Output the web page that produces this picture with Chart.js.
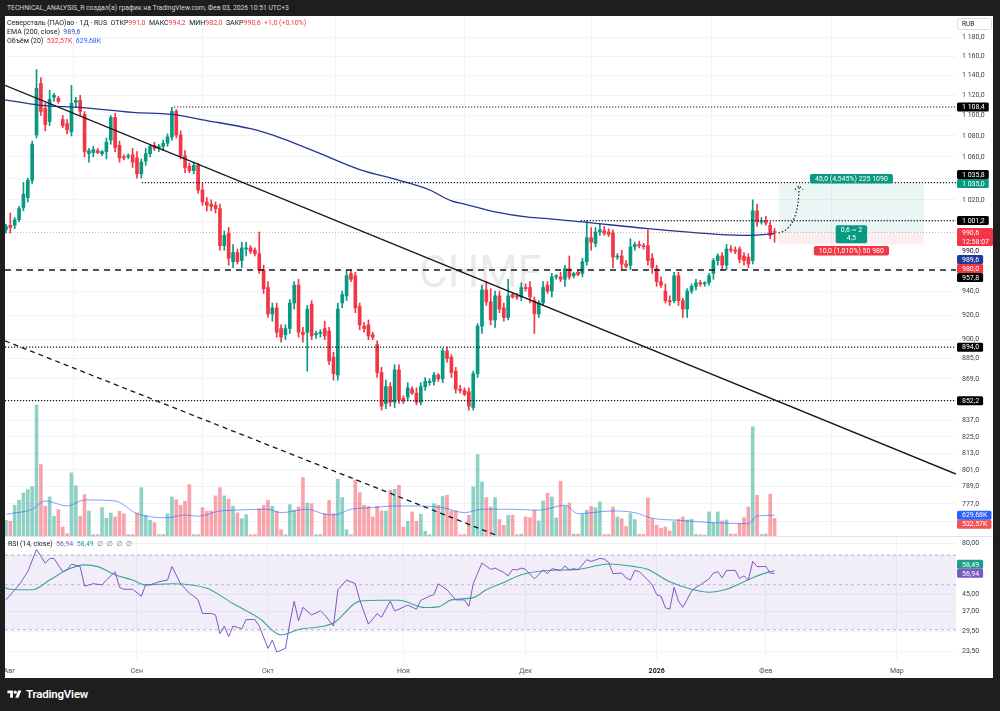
<!DOCTYPE html>
<html>
<head>
<meta charset="utf-8">
<script src="https://cdn.jsdelivr.net/npm/chart.js@4.4.1/dist/chart.umd.min.js"></script>
<style>
  html, body { margin:0; padding:0; width:1000px; height:711px; overflow:hidden; background:#1e1e1e;
               font-family: Roboto, "Noto Sans", sans-serif; }
  #topline { position:absolute; left:7px; top:3px; font-size:6.8px; line-height:10px; color:#d8d8d8; white-space:nowrap; }
  #panel { position:absolute; left:5px; top:16px; width:988px; height:662px; background:#fff; }
  #mainWrap { position:absolute; left:5px; top:16px; width:988px; height:520px; }
  #rsiWrap { position:absolute; left:5px; top:536px; width:988px; height:142px; }
  #logo { position:absolute; left:7px; top:687px; color:#fff; font-size:11.5px; font-weight:600;
          display:flex; align-items:center; gap:4px; letter-spacing:-0.2px; }
</style>
</head>
<body>
<div id="topline">TECHNICAL_ANALYSIS_R создал(а) график на TradingView.com, Фев 03, 2026 10:51 UTC+3</div>
<div id="panel"></div>
<div id="mainWrap"><canvas id="main" width="988" height="520"></canvas></div>
<div id="rsiWrap"><canvas id="rsi" width="988" height="142"></canvas></div>
<div id="logo"><svg width="15" height="11" viewBox="0 0 36 28"><path d="M14 22H7V11H0V4h14v18z" fill="#fff"/><circle cx="20" cy="8" r="4" fill="#fff"/><path d="M28 22h-8l7.5-18h8L28 22z" fill="#fff"/></svg><span>TradingView</span></div>
<script>
// ── время: индекс бара (0 = 1 авг 2025) ─────────────────
const monthIdx = [1.8, 31, 61, 92, 120, 150, 175, 205];
const monthLbl = ["Авг", "Сен", "Окт", "Ноя", "Дек", "2026", "Фев", "Мар"];
const priceTicks = [1180, 1160, 1140, 1120, 1100, 1080, 1060, 1040, 1020, 1000, 960, 940, 920, 900, 885, 869, 852, 837, 825, 813, 801, 789, 777, 765];
const rsiTicks = [80, 45, 37, 29.5, 23.5];

// ── свечи, дневки ──────────────────────────────────────
const opens = [
  990, 993, 997, 997, 1002, 1013, 1022, 1038, 1081, 1132,
  1107, 1094, 1118, 1117, 1096, 1092, 1084, 1113, 1115, 1101,
  1063, 1064, 1066, 1063, 1065, 1076, 1098, 1071, 1060, 1060,
  1062, 1059, 1044, 1056, 1063, 1071, 1068, 1070, 1073, 1079,
  1104, 1081, 1061, 1051, 1047, 1052, 1029, 1018, 1016, 1015,
  1012, 979, 990, 965, 973, 966, 976, 977, 975, 972,
  958, 943, 921, 926, 909, 904, 909, 930, 945, 906,
  906, 929, 904, 905, 909, 907, 886, 872, 930, 936,
  955, 953, 927, 911, 912, 904, 896, 874, 850, 863,
  851, 876, 854, 855, 861, 858, 851, 863, 866, 867,
  872, 869, 891, 886, 875, 861, 860, 859, 847, 873,
  911, 941, 931, 916, 936, 926, 918, 937, 936, 935,
  943, 943, 932, 921, 930, 945, 940, 952, 952, 950,
  959, 953, 956, 955, 965, 986, 981, 991, 992, 991,
  990, 969, 970, 963, 962, 978, 980, 979, 979, 968,
  959, 948, 940, 932, 932, 953, 932, 925, 940, 944,
  947, 946, 947, 955, 966, 970, 962, 976, 975, 976,
  970, 969, 966, 1010, 1000, 1001, 997, 991
];
const highs = [
  995, 998, 1008, 1004, 1014, 1036, 1040, 1075, 1146, 1138,
  1112, 1125, 1122, 1119, 1100, 1096, 1130, 1118, 1120, 1104,
  1068, 1070, 1068, 1066, 1078, 1100, 1102, 1075, 1062, 1063,
  1068, 1065, 1058, 1068, 1072, 1074, 1072, 1076, 1082, 1108,
  1106, 1085, 1066, 1054, 1055, 1054, 1035, 1022, 1020, 1018,
  1016, 992, 995, 980, 976, 982, 982, 979, 977, 991,
  962, 948, 930, 930, 912, 912, 933, 948, 950, 910,
  928, 932, 907, 908, 915, 910, 890, 930, 940, 958,
  958, 956, 930, 914, 916, 906, 899, 878, 868, 866,
  880, 880, 856, 866, 863, 862, 866, 870, 869, 874,
  873, 893, 894, 888, 878, 864, 862, 862, 875, 913,
  945, 948, 942, 940, 940, 930, 950, 939, 938, 947,
  946, 948, 935, 932, 948, 948, 955, 954, 956, 962,
  970, 956, 958, 968, 1001, 995, 995, 998, 996, 994,
  993, 972, 975, 966, 985, 982, 983, 981, 993, 972,
  962, 952, 946, 936, 956, 956, 934, 942, 946, 950,
  949, 948, 955, 968, 972, 973, 980, 979, 978, 978,
  973, 972, 1020, 1016, 1004, 1005, 1000, 994.2
];
const lows = [
  986, 990, 990, 994, 1000, 1010, 1018, 1035, 1078, 1100,
  1085, 1090, 1114, 1112, 1088, 1082, 1080, 1108, 1100, 1060,
  1055, 1060, 1063, 1061, 1058, 1072, 1065, 1055, 1057, 1058,
  1050, 1040, 1040, 1052, 1060, 1066, 1065, 1066, 1070, 1076,
  1078, 1058, 1045, 1045, 1044, 1026, 1015, 1010, 1010, 1008,
  975, 975, 962, 960, 963, 960, 970, 972, 970, 955,
  938, 918, 915, 902, 898, 900, 905, 925, 902, 898,
  875, 900, 901, 902, 900, 880, 868, 868, 926, 932,
  948, 922, 908, 906, 900, 900, 870, 845, 846, 848,
  847, 850, 850, 852, 857, 849, 849, 860, 864, 864,
  867, 866, 882, 870, 858, 858, 856, 845, 845, 870,
  905, 928, 912, 910, 922, 915, 916, 934, 933, 932,
  940, 930, 905, 918, 928, 938, 935, 950, 948, 944,
  950, 951, 953, 952, 962, 975, 978, 988, 988, 987,
  960, 967, 958, 960, 958, 975, 977, 976, 962, 955,
  944, 943, 930, 928, 930, 928, 918, 918, 938, 941,
  944, 944, 945, 950, 962, 958, 958, 973, 972, 964,
  962, 960, 963, 996, 998, 997, 985, 982
];
const closes = [
  993, 996, 995, 1002, 1012, 1025, 1038, 1072, 1127, 1104,
  1091, 1116, 1120, 1114, 1090, 1086, 1112, 1115, 1104, 1065,
  1066, 1067, 1064, 1065, 1074, 1098, 1069, 1059, 1059, 1061,
  1055, 1044, 1055, 1063, 1070, 1068, 1070, 1073, 1079, 1104,
  1081, 1061, 1050, 1047, 1052, 1029, 1018, 1015, 1014, 1012,
  979, 988, 968, 973, 965, 977, 977, 974, 972, 958,
  942, 921, 926, 906, 902, 909, 930, 945, 906, 904,
  925, 903, 905, 906, 903, 883, 873, 925, 937, 953,
  950, 926, 912, 909, 903, 902, 874, 848, 863, 851,
  876, 853, 852, 862, 858, 851, 863, 867, 867, 872,
  869, 891, 885, 874, 861, 860, 857, 848, 873, 911,
  941, 931, 916, 936, 925, 918, 936, 935, 935, 943,
  942, 935, 921, 930, 943, 940, 952, 953, 950, 959,
  952, 955, 954, 965, 986, 982, 991, 993, 990, 989,
  969, 970, 963, 961, 978, 980, 979, 978, 966, 960,
  948, 945, 932, 931, 953, 932, 925, 940, 944, 947,
  946, 947, 953, 966, 970, 962, 976, 975, 974, 967,
  966, 963, 1010, 1000, 1001, 999, 988, 990.6
];
// объём, тыс. шт.
const volumes = [
  900, 477, 447, 933, 1085, 1307, 1408, 1500, 3973, 2168,
  903, 1186, 600, 800, 274, 70, 1915, 1520, 599, 1256,
  760, 40, 45, 860, 538, 700, 578, 751, 678, 40,
  45, 699, 1468, 629, 477, 404, 40, 45, 678, 1186,
  1100, 933, 1055, 1560, 40, 45, 860, 751, 760, 1216,
  1468, 1216, 1116, 903, 700, 526, 648, 40, 45, 830,
  933, 1085, 903, 751, 192, 40, 952, 781, 882, 1772,
  1000, 982, 40, 45, 678, 1085, 678, 1724, 1164, 192,
  40, 1693, 1316, 933, 900, 578, 903, 760, 760, 1389,
  1420, 1541, 274, 447, 730, 447, 660, 143, 40, 982,
  933, 1200, 1237, 760, 760, 40, 45, 629, 1490, 2472,
  1642, 1164, 882, 1164, 500, 325, 629, 629, 40, 60,
  578, 556, 781, 456, 1064, 1298, 1186, 547, 1663, 900,
  1003, 60, 60, 660, 781, 891, 860, 1034, 45, 45,
  882, 578, 526, 283, 690, 500, 50, 50, 1155, 526,
  334, 234, 274, 152, 435, 508, 578, 486, 508, 45,
  40, 30, 730, 404, 730, 456, 486, 60, 55, 386,
  556, 882, 3314, 1237, 45, 60, 1268, 532.57
];

const emaIdx = [0, 9, 18, 30, 39, 47, 57, 64, 73, 82, 91, 98, 103, 106, 110, 113, 121, 125, 133, 148, 164, 171, 177];
const emaVal = [1116, 1110, 1108, 1103, 1101, 1095, 1087, 1078, 1063, 1048, 1038, 1029, 1019, 1016, 1012, 1009, 1004, 1003, 1000, 994, 989, 988, 989.6];

const volMaIdx = [1, 7, 10, 15, 19, 26, 31, 38, 42, 45, 50, 53, 61, 64, 70, 74, 76, 80, 85, 90, 95, 101, 106, 110, 117, 123, 129, 132, 140, 145, 149, 155, 163, 171, 173, 177];
const volMaVal = [660, 812, 1064, 912, 1094, 1064, 678, 556, 638, 599, 760, 781, 812, 708, 812, 660, 638, 812, 860, 912, 912, 860, 708, 812, 812, 781, 933, 678, 760, 708, 538, 477, 404, 374, 608, 629.68];

const rsiIdx = [1, 4, 6, 8, 10, 11, 12, 14, 15, 16, 18, 19, 21, 23, 24, 26, 27, 28, 30, 32, 33, 34, 36, 38, 39, 41, 43, 44, 45, 46, 48, 49, 50, 51, 52, 53, 55, 56, 58, 59, 61, 62, 63, 65, 66, 67, 68, 69, 71, 73, 74, 76, 77, 79, 81, 82, 84, 86, 87, 89, 90, 91, 93, 95, 96, 98, 99, 100, 102, 104, 106, 107, 108, 110, 112, 113, 115, 116, 117, 118, 119, 120, 122, 123, 124, 125, 126, 128, 129, 130, 131, 132, 134, 135, 137, 138, 139, 140, 142, 143, 144, 145, 146, 148, 149, 150, 151, 152, 153, 154, 155, 156, 158, 159, 160, 162, 163, 164, 165, 166, 168, 169, 170, 171, 172, 173, 174, 175, 176, 177];
const rsiVal = [42.1, 49.9, 58.0, 74.7, 63.8, 67.3, 67.3, 58.0, 59.2, 63.2, 61.4, 49.2, 50.6, 49.9, 52.7, 58.0, 48.5, 47.5, 47.5, 43.9, 49.9, 49.9, 51.7, 52.7, 61.4, 50.6, 45.4, 43.9, 42.1, 36.1, 36.1, 35.5, 28.7, 31.3, 27.8, 31.3, 30.4, 33.7, 33.7, 31.3, 24.3, 26.7, 23.3, 24.3, 32.4, 41.5, 33.2, 38.7, 35.5, 37.2, 35.5, 31.3, 47.2, 52.7, 50.6, 42.1, 32.0, 36.0, 34.6, 41.5, 37.2, 37.9, 39.7, 37.9, 41.9, 43.9, 44.7, 50.6, 47.2, 42.1, 42.1, 39.1, 50.6, 64.0, 59.5, 60.4, 57.4, 55.3, 59.5, 59.2, 60.4, 59.5, 53.4, 56.0, 59.2, 56.7, 60.0, 58.8, 61.9, 59.2, 60.0, 59.2, 66.4, 65.1, 67.4, 66.8, 64.5, 56.7, 57.1, 54.1, 52.7, 58.8, 58.0, 52.7, 49.9, 44.7, 43.9, 38.5, 37.9, 48.6, 41.5, 38.7, 46.5, 48.6, 49.9, 53.4, 57.1, 58.0, 54.1, 58.8, 58.8, 53.7, 55.3, 52.7, 65.1, 61.4, 61.4, 61.6, 57.0, 56.94];

const rsiMaIdx = [0, 2, 7, 11, 15, 19, 22, 26, 30, 33, 39, 47, 53, 59, 64, 68, 76, 82, 87, 91, 97, 100, 103, 108, 111, 115, 119, 125, 132, 139, 145, 148, 153, 158, 162, 166, 169, 172, 176, 177];
const rsiMaVal = [49.2, 47.5, 47.2, 52.7, 59.2, 62.6, 61.4, 56.0, 52.7, 49.9, 50.6, 48.0, 40.4, 34.2, 28.3, 30.1, 32.4, 41.5, 41.9, 41.9, 38.6, 38.9, 42.1, 43.2, 47.2, 51.3, 56.0, 58.8, 59.5, 63.2, 61.4, 59.5, 51.7, 47.5, 45.9, 47.5, 50.6, 54.1, 58.0, 58.49];

// ── разметка автора ────────────────────────────────────
const levelPrice = [1108.4, 1035.8, 1001.2, 894.0, 852.2];
const levelFrom = [39.5, 32.1, 132.6, 0.78, 0.78];
const supportPrice = 957.8;
const trendSolidY = [1130, 798];
const trendDashY = [899, 642];
const posFrom = 178, posTo = 211.2;
const posEntry = 990.0, posTarget = 1035.0, posStop = 980.0;
const arrowPts = [[177.9, 990], [182.6, 994], [182.6, 1033]];
const lastPrice = 990.6, lastEma = 989.6, lastVol = 532.57, lastVolMa = 629.68, lastRsi = 56.94, lastRsiMa = 58.49;

// ── оформление ─────────────────────────────────────────
const FONT = 'Roboto, "Noto Sans", "DejaVu Sans", sans-serif';
const UP = "#089981", DN = "#f23645", INK = "#131722", GRID = "#f0f3fa";
const X_MIN = 0.78, X_MAX = 218.55;
const P_MIN = 754.96, P_MAX = 1202.4;
const R_MIN = 21.3, R_MAX = 85.9;
const VOL_MAX = 15778;

Chart.defaults.font.family = FONT;
Chart.defaults.font.size = 7;
Chart.defaults.animation = false;

function fmtNum(v, d) {
  const s = v.toFixed(d).split(".");
  const head = s[0].replace(/\B(?=(\d{3})+(?!\d))/g, " ");
  return d ? head + "," + s[1] : head;
}

const idx = opens.map((_, i) => i);
const candleCol = idx.map(i => closes[i] >= opens[i] ? UP : DN);
const volCol = idx.map(i => closes[i] >= opens[i] ? "rgba(8,153,129,0.45)" : "rgba(242,54,69,0.45)");
const pts = (xs, ys) => xs.map((x, k) => ({ x, y: ys[k] }));
const hline = (x0, v) => [{ x: x0, y: v }, { x: X_MAX, y: v }];

function xAxis(showLabels) {
  return {
    type: "linear", min: X_MIN, max: X_MAX, offset: false,
    afterBuildTicks: s => { s.ticks = monthIdx.map(v => ({ value: v })); },
    afterFit: s => { s.paddingLeft = 0; s.paddingRight = 0; s.height = showLabels ? 18 : 0; },
    grid: { color: c => c.index === 0 ? "rgba(0,0,0,0)" : GRID, drawTicks: false },
    border: { display: false },
    ticks: {
      display: showLabels, autoSkip: false, maxRotation: 0, padding: 7,
      callback: (v, k) => monthLbl[k],
      color: c => c.index === 5 ? INK : "#50535e",
      font: c => ({ size: 7, family: FONT, weight: c.index === 5 ? "bold" : "normal" })
    }
  };
}

function roundRect(ctx, x, y, w, h, r) {
  ctx.beginPath();
  ctx.moveTo(x + r, y);
  ctx.arcTo(x + w, y, x + w, y + h, r);
  ctx.arcTo(x + w, y + h, x, y + h, r);
  ctx.arcTo(x, y + h, x, y, r);
  ctx.arcTo(x, y, x + w, y, r);
  ctx.closePath();
}

// метки значений на правой шкале, раздвигаем, чтобы не налезали
function drawAxisLabels(chart, items) {
  const { ctx, chartArea: a } = chart;
  const H = 9;
  items.forEach(it => { it.h = H * it.lines.length; it.top = it.y - H / 2; it.bot = it.top + it.h; });
  items.sort((p, q) => p.y - q.y);
  for (let k = 1; k < items.length; k++) {
    const p = items[k - 1], it = items[k];
    if (!it.fixed && it.top < p.bot) { it.top = p.bot; it.bot = it.top + it.h; }
  }
  for (let k = items.length - 2; k >= 0; k--) {
    const n = items[k + 1], it = items[k];
    if (!it.fixed && it.bot > n.top) { it.bot = n.top; it.top = it.bot - it.h; }
  }
  ctx.save();
  ctx.font = "7px " + FONT;
  ctx.textBaseline = "middle";
  ctx.textAlign = "left";
  items.forEach(it => {
    const w = Math.max(...it.lines.map(t => ctx.measureText(t).width)) + 9;
    if (it.bg) {
      ctx.fillStyle = it.bg;
      roundRect(ctx, a.right + 1, it.top, w, it.h, 1.5);
      ctx.fill();
    }
    ctx.fillStyle = it.fg;
    it.lines.forEach((t, k) => ctx.fillText(t, a.right + 6, it.top + H / 2 + k * H + 0.5));
  });
  ctx.restore();
}

function drawRuns(ctx, x, y, runs) {
  runs.forEach(([t, c]) => { ctx.fillStyle = c; ctx.fillText(t, x, y); x += ctx.measureText(t).width; });
}

function tag(ctx, text, cx, top, bg, lines) {
  const ls = lines || [text];
  const w = Math.max(...ls.map(t => ctx.measureText(t).width)) + 10;
  const h = 8.5 * ls.length + 1;
  ctx.fillStyle = bg;
  roundRect(ctx, cx - w / 2, top, w, h, 2);
  ctx.fill();
  ctx.fillStyle = "#fff";
  ls.forEach((t, k) => ctx.fillText(t, cx, top + 5 + k * 8.5));
}

const mainDecor = {
  id: "mainDecor",
  beforeDatasetsDraw(chart) {
    const { ctx, chartArea: a, scales: { x, y } } = chart;
    ctx.save();
    ctx.font = "44px " + FONT;
    ctx.fillStyle = "rgba(19,23,34,0.09)";
    ctx.textAlign = "center";
    ctx.textBaseline = "middle";
    ctx.fillText("CHMF", (a.left + a.right) / 2, (a.top + a.bottom) / 2);
    // позиция long
    const x0 = x.getPixelForValue(posFrom), x1 = x.getPixelForValue(posTo);
    const yT = y.getPixelForValue(posTarget), yE = y.getPixelForValue(posEntry), yS = y.getPixelForValue(posStop);
    ctx.fillStyle = "rgba(8,153,129,0.09)";
    ctx.fillRect(x0, yT, x1 - x0, yE - yT);
    ctx.fillStyle = "rgba(242,54,69,0.09)";
    ctx.fillRect(x0, yE, x1 - x0, yS - yE);
    ctx.restore();
  },
  afterDatasetsDraw(chart) {
    const { ctx, chartArea: a, scales: { x, y, vol } } = chart;
    ctx.save();
    // пунктирная стрелка к цели
    const P = arrowPts.map(([i, v]) => [x.getPixelForValue(i), y.getPixelForValue(v)]);
    ctx.strokeStyle = INK;
    ctx.lineWidth = 1.2;
    ctx.setLineDash([1.5, 2]);
    ctx.beginPath();
    ctx.moveTo(P[0][0], P[0][1]);
    ctx.quadraticCurveTo(P[1][0], P[1][1], P[2][0], P[2][1]);
    ctx.moveTo(P[2][0] - 4, P[2][1] + 4);
    ctx.lineTo(P[2][0], P[2][1]);
    ctx.lineTo(P[2][0] + 4, P[2][1] + 4);
    ctx.stroke();
    ctx.setLineDash([]);
    // подписи позиции
    const xm = (x.getPixelForValue(posFrom) + x.getPixelForValue(posTo)) / 2;
    const yT = y.getPixelForValue(posTarget), yE = y.getPixelForValue(posEntry), yS = y.getPixelForValue(posStop);
    ctx.font = "7px " + FONT;
    ctx.textAlign = "center";
    ctx.textBaseline = "middle";
    const dT = posTarget - posEntry, dS = posEntry - posStop;
    tag(ctx, fmtNum(dT, 1) + " (" + fmtNum(dT / posEntry * 100, 3) + "%) 225 1090", xm, yT - 9.5, UP);
    tag(ctx, "", xm, yE - 8, UP, ["0,6 ~ 2", "4,5"]);
    tag(ctx, fmtNum(dS, 1) + " (" + fmtNum(dS / posEntry * 100, 3) + "%) 50 980", xm, yS + 1.5, DN);
    // легенда
    ctx.textAlign = "left";
    ctx.font = "7px " + FONT;
    drawRuns(ctx, 2, 7.5, [["Северсталь (ПАО)ао · 1Д · RUS  ОТКР", INK], ["991,0", DN], ["  МАКС", INK], ["994,2", DN],
      ["  МИН", INK], ["982,0", DN], ["  ЗАКР", INK], ["990,6", DN], ["  +1,0 (+0,10%)", DN]]);
    drawRuns(ctx, 2, 16.5, [["EMA (200, close)  ", INK], [fmtNum(lastEma, 1), "#2e4fb8"]]);
    drawRuns(ctx, 2, 25, [["Объём (20)  ", INK], [fmtNum(lastVol, 2) + "K", DN], ["  ", INK], [fmtNum(lastVolMa, 2) + "K", "#2962ff"]]);
    // RUB
    ctx.strokeStyle = "#d9dce3";
    ctx.lineWidth = 1;
    roundRect(ctx, a.right + 1.5, 2.5, 34, 11, 2);
    ctx.stroke();
    ctx.fillStyle = INK;
    ctx.font = "6.5px " + FONT;
    ctx.fillText("RUB", a.right + 6, 8.5);
    ctx.restore();

    const yp = v => y.getPixelForValue(v);
    const lbl = (v, bg, fg, extra) => Object.assign({ y: yp(v), lines: [fmtNum(v, 1)], bg, fg }, extra || {});
    drawAxisLabels(chart, [
      lbl(1108.4, "#000", "#fff"),
      lbl(1035.8, "#000", "#fff"),
      lbl(posTarget, UP, "#fff", { fixed: true }),
      lbl(1001.2, "#000", "#fff"),
      { y: yp(lastPrice), lines: [fmtNum(lastPrice, 1), "12:58:07"], bg: DN, fg: "#fff", fixed: true },
      lbl(posEntry, null, INK),
      lbl(lastEma, "#1f3a9a", "#fff"),
      lbl(posStop, DN, "#fff"),
      lbl(supportPrice, "#000", "#fff"),
      lbl(894.0, "#000", "#fff"),
      lbl(852.2, "#000", "#fff"),
      { y: vol.getPixelForValue(lastVolMa), lines: [fmtNum(lastVolMa, 2) + "K"], bg: "#2962ff", fg: "#fff" },
      { y: vol.getPixelForValue(lastVol), lines: [fmtNum(lastVol, 2) + "K"], bg: "#f05454", fg: "#fff" }
    ]);
  }
};

const line = (data, color, width, extra) => Object.assign({
  type: "line", data, borderColor: color, borderWidth: width, pointRadius: 0, fill: false, tension: 0
}, extra || {});

new Chart(document.getElementById("main"), {
  type: "bar",
  data: {
    datasets: [
      line([{ x: X_MIN, y: trendSolidY[0] }, { x: X_MAX, y: trendSolidY[1] }], INK, 1.3),
      line([{ x: X_MIN, y: trendDashY[0] }, { x: X_MAX, y: trendDashY[1] }], INK, 1.3, { borderDash: [5, 4] }),
      ...levelPrice.map((v, k) => line(hline(levelFrom[k], v), INK, 1.1, { borderDash: [1.2, 1.8] })),
      line(hline(X_MIN, supportPrice), INK, 1.5, { borderDash: [6, 5] }),
      line(hline(X_MIN, lastPrice), "rgba(242,54,69,0.45)", 1, { borderDash: [1, 2] }),
      line(pts(emaIdx, emaVal), "#23358f", 1.3, { cubicInterpolationMode: "monotone" }),
      { type: "bar", data: idx.map(i => ({ x: i, y: [opens[i], closes[i]] })), backgroundColor: candleCol,
        barThickness: 3, minBarLength: 1, grouped: false },
      { type: "bar", data: idx.map(i => ({ x: i, y: [lows[i], highs[i]] })), backgroundColor: candleCol,
        barThickness: 1, grouped: false },
      line(pts(volMaIdx, volMaVal), "rgba(41,98,255,0.6)", 1, { yAxisID: "vol", cubicInterpolationMode: "monotone" }),
      { type: "bar", yAxisID: "vol", data: idx.map(i => ({ x: i, y: volumes[i] })), backgroundColor: volCol,
        barThickness: 3, grouped: false }
    ]
  },
  options: {
    responsive: false, animation: false, events: [],
    layout: { padding: 0, autoPadding: false },
    plugins: { legend: { display: false }, tooltip: { enabled: false } },
    scales: {
      x: xAxis(false),
      y: {
        type: "logarithmic", position: "right", min: P_MIN, max: P_MAX,
        afterBuildTicks: s => { s.ticks = priceTicks.map(v => ({ value: v })); },
        afterFit: s => { s.width = 37; s.paddingTop = 0; s.paddingBottom = 0; },
        grid: { color: GRID, drawTicks: false },
        border: { display: false },
        ticks: { autoSkip: false, padding: 6, color: "#3a3e49", callback: v => fmtNum(v, 1) }
      },
      vol: { type: "linear", display: false, min: 0, max: VOL_MAX }
    }
  },
  plugins: [mainDecor]
});

const rsiDecor = {
  id: "rsiDecor",
  afterDatasetsDraw(chart) {
    const { ctx, chartArea: a, scales: { y } } = chart;
    ctx.save();
    ctx.strokeStyle = "#e0e3eb";
    ctx.lineWidth = 1;
    ctx.beginPath();
    ctx.moveTo(0, 0.5); ctx.lineTo(chart.width, 0.5);
    ctx.stroke();
    ctx.font = "7px " + FONT;
    ctx.textBaseline = "middle";
    ctx.textAlign = "left";
    drawRuns(ctx, 3, 8.5, [["RSI (14, close)  ", INK], [fmtNum(lastRsi, 2), "#7e57c2"], ["  ", INK],
      [fmtNum(lastRsiMa, 2), "#22a08a"], ["  ∅  ∅  ∅  ∅", "#787b86"]]);
    ctx.restore();
    drawAxisLabels(chart, [
      { y: y.getPixelForValue(lastRsiMa), lines: [fmtNum(lastRsiMa, 2)], bg: "#1e9e86", fg: "#fff" },
      { y: y.getPixelForValue(lastRsi), lines: [fmtNum(lastRsi, 2)], bg: "#7e57c2", fg: "#fff", fixed: true }
    ]);
  }
};

new Chart(document.getElementById("rsi"), {
  type: "line",
  data: {
    datasets: [
      line(pts(rsiIdx, rsiVal), "#7e57c2", 1),
      line(pts(rsiMaIdx, rsiMaVal), "#3fa39a", 1.1, { cubicInterpolationMode: "monotone" }),
      line(hline(X_MIN, 70), "rgba(120,123,134,0.55)", 1, { borderDash: [3, 3] }),
      line(hline(X_MIN, 30), "rgba(120,123,134,0.55)", 1, { borderDash: [3, 3], fill: "-1", backgroundColor: "rgba(126,87,194,0.1)" }),
      line(hline(X_MIN, 50), "rgba(120,123,134,0.45)", 1, { borderDash: [3, 3] })
    ]
  },
  options: {
    responsive: false, animation: false, events: [],
    layout: { padding: { top: 1, left: 0, right: 0, bottom: 0 }, autoPadding: false },
    plugins: { legend: { display: false }, tooltip: { enabled: false } },
    scales: {
      x: xAxis(true),
      y: {
        type: "logarithmic", position: "right", min: R_MIN, max: R_MAX,
        afterBuildTicks: s => { s.ticks = rsiTicks.map(v => ({ value: v })); },
        afterFit: s => { s.width = 37; s.paddingTop = 0; s.paddingBottom = 0; },
        grid: { color: GRID, drawTicks: false },
        border: { display: false },
        ticks: { autoSkip: false, padding: 6, color: "#3a3e49", callback: v => fmtNum(v, 2) }
      }
    }
  },
  plugins: [rsiDecor]
});
</script>
</body>
</html>
